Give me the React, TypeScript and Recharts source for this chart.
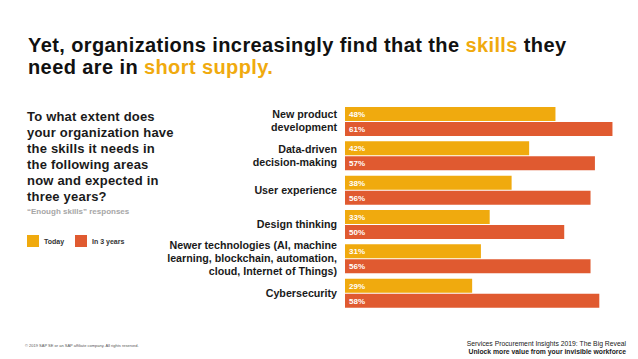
import { Bar, BarChart, LabelList, XAxis, YAxis } from "recharts";

const categories = [
  "New product\ndevelopment",
  "Data-driven\ndecision-making",
  "User experience",
  "Design thinking",
  "Newer technologies (AI, machine\nlearning, blockchain, automation,\ncloud, Internet of Things)",
  "Cybersecurity",
];
const today = [48, 42, 38, 33, 31, 29];
const inThreeYears = [61, 57, 56, 50, 56, 58];

const YELLOW = "#F0AA0E";
const ORANGE = "#E05A30";
const FONT = '"Liberation Sans", Arial, sans-serif';

const data = categories.map((name, i) => ({
  name,
  today: today[i],
  later: inThreeYears[i],
}));

function CategoryTick({ x, y, payload }: any) {
  const lines = String(payload.value).split("\n");
  const lh = 13;
  const start = y - ((lines.length - 1) * lh) / 2 + 3.8;
  return (
    <text
      x={x}
      y={start}
      textAnchor="end"
      fill="#1a1a1a"
      fontSize={10.7}
      fontWeight="bold"
      fontFamily={FONT}
    >
      {lines.map((l, i) => (
        <tspan key={i} x={x} y={start + i * lh}>
          {l}
        </tspan>
      ))}
    </text>
  );
}

export default function App() {
  return (
    <div
      style={{
        position: "absolute",
        left: 0,
        top: 0,
        width: 638,
        height: 359,
        background: "#fff",
        fontFamily: FONT,
        overflow: "hidden",
      }}
    >
      <div
        style={{
          position: "absolute",
          left: 28,
          top: 34,
          fontSize: 20,
          fontWeight: "bold",
          lineHeight: "22px",
          letterSpacing: 0.4,
          color: "#111",
          whiteSpace: "nowrap",
        }}
      >
        Yet, organizations increasingly find that the{" "}
        <span style={{ color: YELLOW }}>skills</span> they
        <br />
        need are in <span style={{ color: YELLOW }}>short supply.</span>
      </div>

      <div
        style={{
          position: "absolute",
          left: 27,
          top: 109,
          fontSize: 13,
          fontWeight: "bold",
          lineHeight: "16px",
          letterSpacing: 0.2,
          color: "#1a1a1a",
          whiteSpace: "nowrap",
        }}
      >
        To what extent does
        <br />
        your organization have
        <br />
        the skills it needs in
        <br />
        the following areas
        <br />
        now and expected in
        <br />
        three years?
      </div>

      <div
        style={{
          position: "absolute",
          left: 27,
          top: 207,
          fontSize: 8,
          fontWeight: "bold",
          color: "#a6a6a6",
          whiteSpace: "nowrap",
        }}
      >
        “Enough skills” responses
      </div>

      <div
        style={{
          position: "absolute",
          left: 27,
          top: 235,
          display: "flex",
          alignItems: "center",
          fontSize: 7,
          fontWeight: "bold",
          color: "#333",
          whiteSpace: "nowrap",
        }}
      >
        <span style={{ width: 12, height: 12, background: YELLOW, display: "inline-block" }} />
        <span style={{ marginLeft: 5, width: 31 }}>Today</span>
        <span style={{ width: 12, height: 12, background: ORANGE, display: "inline-block" }} />
        <span style={{ marginLeft: 5 }}>In 3 years</span>
      </div>

      <div
        style={{
          position: "absolute",
          left: 25,
          top: 343,
          fontSize: 4,
          color: "#555",
          whiteSpace: "nowrap",
        }}
      >
        © 2019 SAP SE or an SAP affiliate company. All rights reserved.
      </div>

      <div
        style={{
          position: "absolute",
          right: 12,
          top: 340,
          fontSize: 6.8,
          color: "#222",
          textAlign: "right",
          lineHeight: "8px",
          whiteSpace: "nowrap",
        }}
      >
        Services Procurement Insights 2019: The Big Reveal
        <br />
        <b>Unlock more value from your invisible workforce</b>
      </div>

      <div style={{ position: "absolute", left: 0, top: 0 }}>
        <BarChart
          width={638}
          height={359}
          data={data}
          layout="vertical"
          margin={{ top: 104, bottom: 49, left: 0, right: 8 }}
          barSize={14}
          barGap={1}
        >
          <XAxis type="number" domain={[0, 65]} hide />
          <YAxis
            type="category"
            dataKey="name"
            width={345}
            axisLine={false}
            tickLine={false}
            interval={0}
            tick={<CategoryTick />}
          />
          <Bar dataKey="today" fill={YELLOW} isAnimationActive={false}>
            <LabelList
              dataKey="today"
              position="insideLeft"
              offset={4}
              formatter={(v: any) => `${v}%`}
              fill="#fff"
              fontSize={8}
              fontWeight="bold"
              fontFamily={FONT}
            />
          </Bar>
          <Bar dataKey="later" fill={ORANGE} isAnimationActive={false}>
            <LabelList
              dataKey="later"
              position="insideLeft"
              offset={4}
              formatter={(v: any) => `${v}%`}
              fill="#fff"
              fontSize={8}
              fontWeight="bold"
              fontFamily={FONT}
            />
          </Bar>
        </BarChart>
      </div>
    </div>
  );
}
